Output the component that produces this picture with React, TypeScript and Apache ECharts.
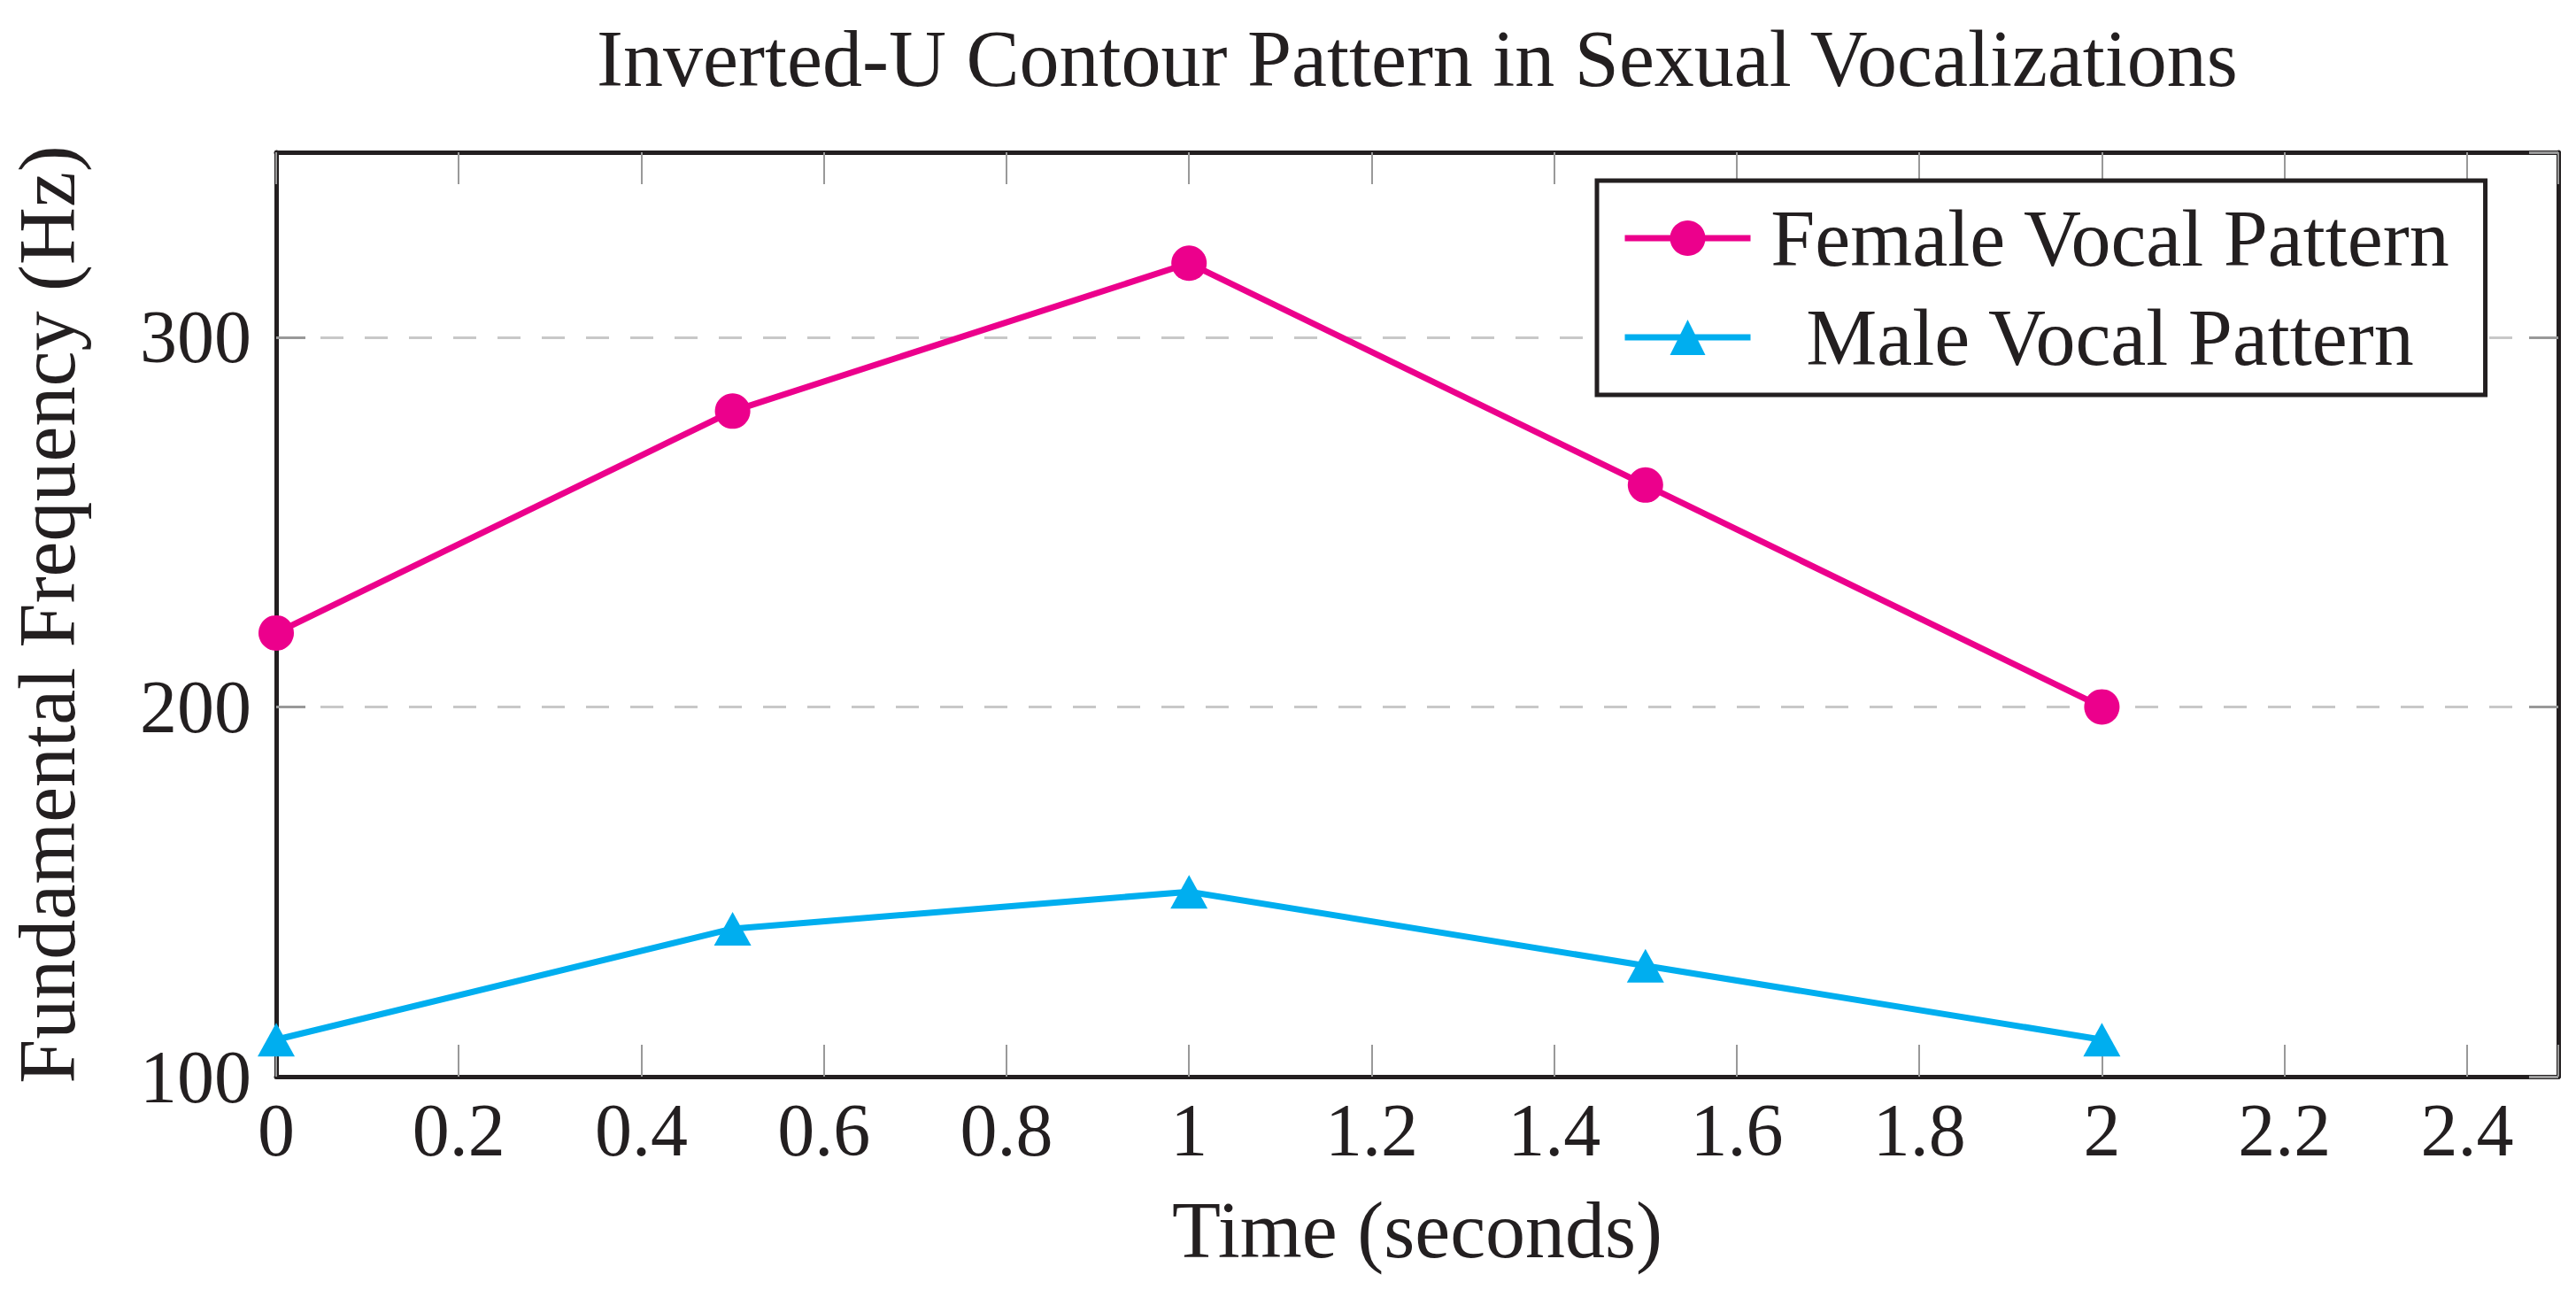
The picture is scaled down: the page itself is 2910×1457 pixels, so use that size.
import React, { useEffect, useRef } from "react";
import * as echarts from "echarts";

const timePoints = [0, 0.5, 1, 1.5, 2];
const femaleHz = [220, 280, 320, 260, 200];
const maleHz = [110, 140, 150, 130, 110];
const seriesNames = ["Female Vocal Pattern", "Male Vocal Pattern"];
const titleText = "Inverted-U Contour Pattern in Sexual Vocalizations";
const xName = "Time (seconds)";
const yName = "Fundamental Frequency (Hz)";

const FONT = "Liberation Serif";
const INK = "#231f20";
const BIG = 90;
const TICKFS = 84;

export default function App() {
  const ref = useRef<HTMLDivElement>(null);
  useEffect(() => {
    document.body.style.margin = "0";
    if (!ref.current) return;
    const chart = echarts.init(ref.current, undefined, { renderer: "svg" });
    const frameAxisLine = { show: true, onZero: false, lineStyle: { color: INK, width: 5 } };
    const xTick = { show: true, inside: true, length: 36, lineStyle: { color: "#999", width: 2 } };
    const yTick = { show: true, inside: true, length: 33, lineStyle: { color: "#999", width: 3 } };
    const xFmt = (v: number) => (Math.abs(v - 2.5) < 1e-9 ? "" : String(+v.toFixed(1)));
    const yFmt = (v: number) => (v === 350 ? "" : String(v));
    chart.setOption({
      animation: false,
      backgroundColor: "#fff",
      textStyle: { fontFamily: FONT, color: INK },
      graphic: [
        {
          type: "text",
          x: 1601,
          y: 66,
          style: {
            text: titleText,
            font: `${BIG}px "${FONT}"`,
            fill: INK,
            textAlign: "center",
            textVerticalAlign: "middle",
          },
        },
      ],
      grid: { left: 311, right: 20, top: 172, bottom: 241, containLabel: false },
      xAxis: [
        {
          type: "value",
          position: "bottom",
          min: 0,
          max: 2.5,
          interval: 0.2,
          z: 3,
          axisLine: frameAxisLine,
          axisTick: xTick,
          splitLine: { show: false },
          axisLabel: { formatter: xFmt, fontSize: TICKFS, fontFamily: FONT, color: INK, margin: 18 },
          name: xName,
          nameLocation: "middle",
          nameGap: 128,
          nameTextStyle: { fontSize: BIG, fontFamily: FONT, color: INK },
        },
        {
          type: "value",
          position: "top",
          min: 0,
          max: 2.5,
          interval: 0.2,
          z: 3,
          axisLine: frameAxisLine,
          axisTick: xTick,
          splitLine: { show: false },
          axisLabel: { show: false },
        },
      ],
      yAxis: [
        {
          type: "value",
          position: "left",
          min: 100,
          max: 350,
          interval: 100,
          z: 1,
          axisLine: frameAxisLine,
          axisTick: yTick,
          splitLine: { show: true, lineStyle: { color: "#c8c8c8", width: 3, type: [26, 24] } },
          axisLabel: { formatter: yFmt, fontSize: TICKFS, fontFamily: FONT, color: INK, margin: 28 },
          name: yName,
          nameLocation: "middle",
          nameGap: 214,
          nameTextStyle: { fontSize: BIG, fontFamily: FONT, color: INK },
        },
        {
          type: "value",
          position: "right",
          min: 100,
          max: 350,
          interval: 100,
          z: 3,
          axisLine: frameAxisLine,
          axisTick: yTick,
          splitLine: { show: false },
          axisLabel: { show: false },
        },
      ],
      legend: {
        orient: "vertical",
        left: 1804,
        top: 204,
        padding: [20, 40, 20, 28],
        itemGap: 22,
        itemWidth: 142,
        itemHeight: 50,
        borderColor: INK,
        borderWidth: 5,
        borderRadius: 0,
        backgroundColor: "#fff",
        lineStyle: { width: 7 },
        data: seriesNames,
        formatter: (name: string) => `{n|${name}}`,
        textStyle: {
          fontFamily: FONT,
          fontSize: BIG,
          color: INK,
          rich: { n: { width: 802, align: "center", fontSize: BIG, fontFamily: FONT, color: INK } },
        },
      },
      series: [
        {
          name: seriesNames[0],
          type: "line",
          z: 5,
          xAxisIndex: 0,
          yAxisIndex: 0,
          data: timePoints.map((t, i) => [t, femaleHz[i]]),
          symbol: "circle",
          symbolSize: 40,
          lineStyle: { color: "#EC008C", width: 7 },
          itemStyle: { color: "#EC008C" },
        },
        {
          name: seriesNames[1],
          type: "line",
          z: 5,
          xAxisIndex: 0,
          yAxisIndex: 0,
          data: timePoints.map((t, i) => [t, maleHz[i]]),
          symbol: "triangle",
          symbolSize: [42, 38],
          lineStyle: { color: "#00AEEF", width: 7 },
          itemStyle: { color: "#00AEEF" },
        },
      ],
    });
    return () => chart.dispose();
  }, []);
  return <div ref={ref} style={{ width: 2910, height: 1457 }} />;
}
